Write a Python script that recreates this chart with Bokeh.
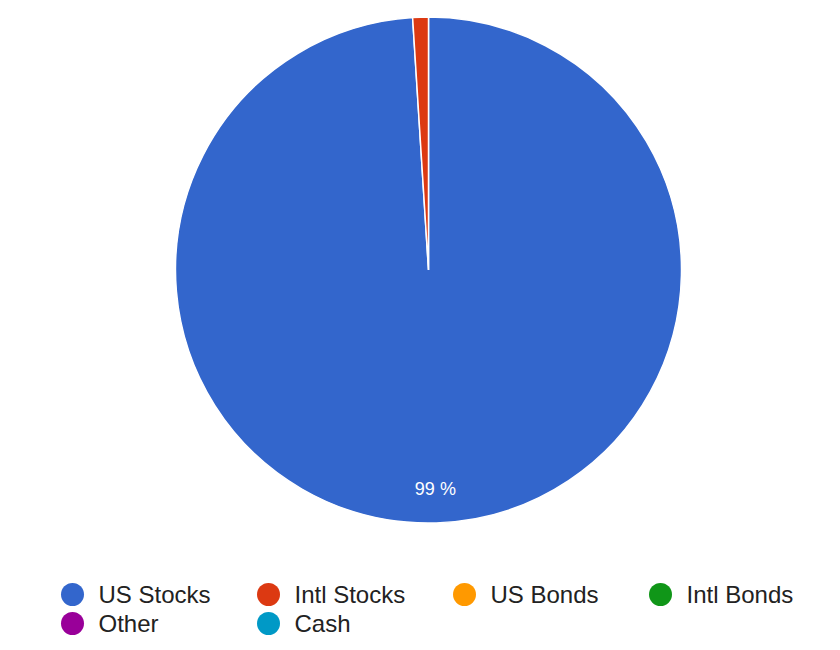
import math
from bokeh.plotting import figure
from bokeh.models import Range1d, ColumnDataSource
from bokeh.embed import file_html
from bokeh.resources import INLINE
from bokeh.core.properties import value

categories = ["US Stocks", "Intl Stocks", "US Bonds", "Intl Bonds", "Other", "Cash"]
values = [99, 1, 0, 0, 0, 0]
colors = ["#3366cc", "#dc3912", "#ff9900", "#109618", "#990099", "#0099c6"]

W, H = 824, 642
p = figure(width=W, height=H, output_backend="svg", toolbar_location=None,
           x_range=Range1d(0, W), y_range=Range1d(0, H),
           min_border=0, border_fill_color="white", background_fill_color="white")
p.axis.visible = False
p.grid.visible = False
p.outline_line_color = None

def Y(img_y):
    return H - img_y

cx, cy, R = 428, Y(269.5), 253
total = sum(values)
starts, ends, wc, labx, laby, labt = [], [], [], [], [], []
cum = 0.0
for v, c in zip(values, colors):
    if v <= 0:
        continue
    a0 = math.pi / 2 - 2 * math.pi * cum / total
    a1 = math.pi / 2 - 2 * math.pi * (cum + v) / total
    starts.append(a0)
    ends.append(a1)
    wc.append(c)
    frac = v / total
    if frac >= 0.05:
        mid = (a0 + a1) / 2
        labx.append(cx + 0.865 * R * math.cos(mid))
        laby.append(cy + 0.865 * R * math.sin(mid))
        labt.append(f"{round(frac * 100)} %")
    cum += v

src = ColumnDataSource(dict(x=[cx] * len(starts), y=[cy] * len(starts),
                            s=starts, e=ends, c=wc))
p.wedge(x="x", y="y", radius=R, start_angle="s", end_angle="e", direction="clock",
        fill_color="c", line_color="white", line_width=1.5, source=src)

p.text(x=labx, y=laby, text=labt, text_color="white", text_font=value("Liberation Sans"),
       text_font_size="18px", text_align="center", text_baseline="middle")

# legend
col_x = [72, 268, 464, 660]
row_y = [594, 623]
lx, ly, tx = [], [], []
for i, name in enumerate(categories):
    r, ci = divmod(i, 4)
    lx.append(col_x[ci])
    ly.append(Y(row_y[r]))
    tx.append(col_x[ci] + 26)
p.scatter(x=lx, y=ly, size=23, marker="circle", fill_color=colors, line_color=None)
p.text(x=tx, y=ly, text=categories, text_color="#222222", text_font=value("Liberation Sans"),
       text_font_size="24px", text_align="left", text_baseline="middle")

open("out.html", "w").write(file_html(p, INLINE))
